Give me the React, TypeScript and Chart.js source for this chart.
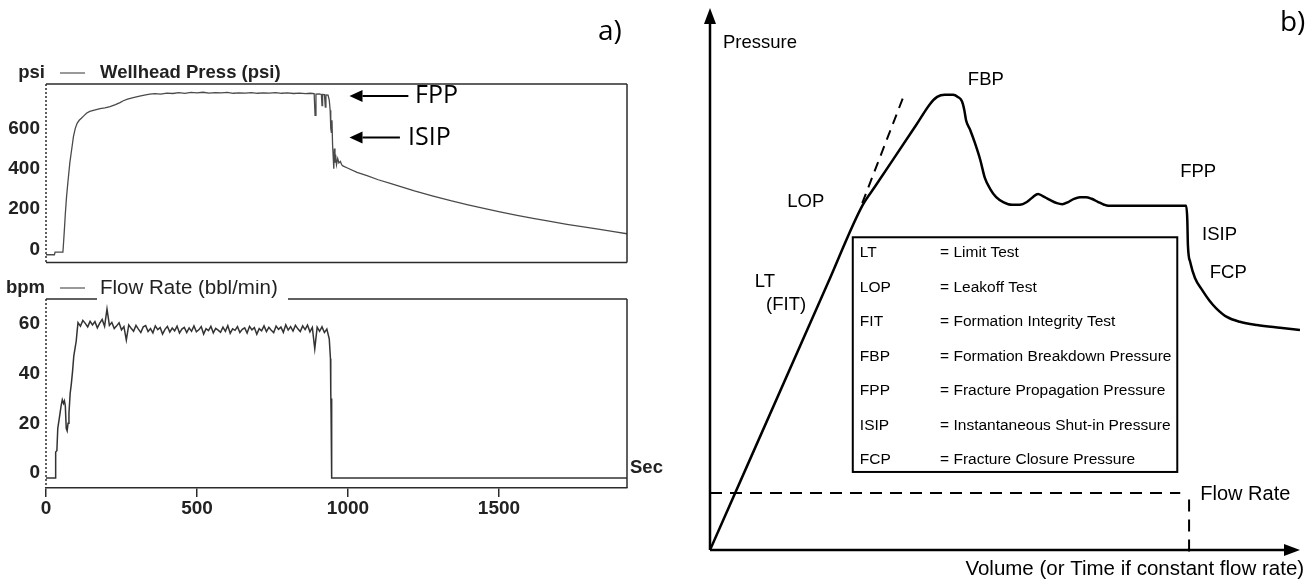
import React, { useEffect, useRef } from 'react';
import { Chart, registerables } from 'chart.js';

Chart.register(...registerables);

// ---------- a) field record: wellhead pressure (s, psi) ----------
const pressTime = [
  0, 28, 30, 56, 58, 61, 64, 68, 73, 79,
  85, 91, 97, 103, 110, 117, 125, 135, 145, 160,
  179, 195, 212, 230, 245, 256, 270, 289, 310, 330,
  344, 360, 380, 400, 420, 440, 460, 480, 500, 520,
  540, 560, 580, 600, 620, 640, 660, 680, 700, 720,
  740, 760, 780, 800, 820, 840, 860, 875, 888, 891,
  894, 905, 912, 914, 916, 922, 925, 927, 934, 938,
  941, 943, 945, 947, 949, 951, 953, 955, 957, 959,
  962, 966, 970, 975, 979, 983, 1000, 1030, 1063, 1100,
  1140, 1172, 1220, 1282, 1340, 1394, 1450, 1503, 1560, 1613,
  1670, 1725, 1780, 1834, 1880, 1924,
];
const pressPsi = [
  -27, -27, -14, -14, 30, 100, 175, 260, 340, 430,
  495, 560, 600, 625, 640, 650, 662, 676, 684, 690,
  698, 702, 708, 718, 728, 737, 745, 753, 760, 766,
  770, 772, 770, 775, 773, 777, 774, 778, 776, 779,
  775, 777, 776, 778, 774, 776, 775, 777, 774, 776,
  775, 777, 774, 776, 773, 775, 772, 774, 772, 665,
  770, 771, 768, 713, 768, 767, 705, 766, 765, 740,
  690, 600, 580, 640, 520, 460, 400, 500, 430, 470,
  420, 450, 428, 436, 420, 414, 402, 382, 365, 345,
  327, 312, 290, 264, 241, 222, 203, 186, 168, 153,
  138, 124, 111, 99, 88, 77,
];

// ---------- a) field record: pump flow rate (s, bbl/min) ----------
const flowTime = [
  0, 30, 32, 36, 39, 44, 50, 54, 58, 61,
  64, 67, 70, 73, 76, 80, 84, 88, 92, 96,
  100, 103,
  106, 114, 122, 130, 138, 146, 154, 162, 170, 178,
  186, 194, 202, 210, 218, 226, 234, 242, 250, 258,
  266, 274, 282, 290, 298, 306, 314, 322, 330, 338,
  346, 354, 362, 370, 378, 386, 394, 402, 410, 418,
  426, 434, 442, 450, 458, 466, 474, 482, 490, 498,
  506, 514, 522, 530, 538, 546, 554, 562, 570, 578,
  586, 594, 602, 610, 618, 626, 634, 642, 650, 658,
  666, 674, 682, 690, 698, 706, 714, 722, 730, 738,
  746, 754, 762, 770, 778, 786, 794, 802, 810, 818,
  826, 834, 842, 850, 858, 866, 874, 882, 890, 898,
  906, 914, 922, 930,
  938, 942, 943, 944, 945, 946, 947, 1924,
];
const flowBpm = [
  -2, -2, 8.5, 9, 18, 22, 27, 29.5, 28, 29,
  27, 18, 17, 20, 24, 32, 36, 41, 47, 50,
  53, 57,
  60.5, 59.1, 61.4, 60.2, 58.8, 61.0, 59.6, 60.9, 58.4, 60.3,
  61.8, 59.0, 66.0, 59.4, 60.6, 58.1, 59.2, 60.4, 57.6, 58.9,
  53.5, 59.6, 58.2, 57.0, 59.4, 57.9, 56.5, 58.8, 59.3, 56.9,
  58.1, 56.4, 59.2, 57.7, 58.5, 55.9, 57.8, 59.0, 56.7, 58.3,
  57.2, 59.1, 56.3, 57.9, 58.6, 56.5, 58.4, 57.0, 59.2, 56.8,
  57.6, 58.9, 55.9, 58.1, 57.3, 59.0, 56.4, 58.2, 57.5, 56.6,
  58.7, 57.0, 59.3, 56.2, 58.0, 57.4, 58.9, 56.5, 57.8, 58.4,
  56.3, 59.0, 57.6, 58.5, 55.8, 58.1, 57.2, 59.2, 56.9, 58.6,
  57.4, 56.5, 59.1, 57.8, 58.7, 56.6, 59.6, 57.5, 58.9, 57.1,
  59.4, 58.0, 56.9, 59.2, 57.7, 59.5, 56.8, 58.6, 50.0, 58.7,
  57.0, 58.8, 56.5, 57.9,
  54.0, 46.0, 33.0, 25.0, 30.0, 4.0, -2, -2,
];

const timeTicks = [0, 500, 1000, 1500];
const psiTicks = [0, 200, 400, 600];
const bpmTicks = [0, 20, 40, 60];

// ---------- b) idealised pressure response (volume, pressure in relative units) ----------
const schemVolume = [
  0, 20.0, 25.8, 28.0, 35.0, 37.3, 38.5, 39.8, 41.2, 42.0,
  42.7, 43.1, 43.4, 44.1, 44.9, 45.8, 46.6, 47.5, 48.5, 49.7,
  51.2, 52.5, 53.7, 54.7, 55.6, 56.4, 57.6, 58.8, 59.7, 60.7,
  61.7, 62.7, 63.7, 64.7, 65.8, 66.8, 67.5, 80.7, 80.9, 81.0,
  81.4, 82.2, 83.4, 84.6, 85.8, 87.6, 89.8, 92.7, 96.6, 100,
];
const schemPressure = [
  0, 49.3, 63.5, 67.1, 78.5, 82.3, 83.6, 84.0, 84.0, 83.6,
  82.8, 81.2, 79.3, 77.5, 75.1, 72.0, 68.6, 66.6, 65.1, 64.2,
  63.7, 63.7, 64.2, 65.1, 65.7, 65.3, 64.6, 64.0, 63.8, 64.2,
  64.8, 65.1, 65.1, 64.8, 64.2, 63.7, 63.5, 63.5, 60.9, 56.3,
  53.1, 50.2, 48.0, 46.1, 44.6, 43.0, 42.1, 41.5, 41.0, 40.6,
];
// linear-elastic trend continued past the leak-off point
const lopTrendVolume = [25.8, 32.7];
const lopTrendPressure = [64.0, 83.4];
// constant injection rate, then shut-in
const rateVolume = [0, 79.7];
const rateLevel = [10.5, 10.5];
const shutInVolume = [81.2, 81.2];
const shutInLevel = [9.3, -0.8];

const glossaryAbbr = ['LT', 'LOP', 'FIT', 'FBP', 'FPP', 'ISIP', 'FCP'];
const glossaryText = [
  '= Limit Test',
  '= Leakoff Test',
  '= Formation Integrity Test',
  '= Formation Breakdown Pressure',
  '= Fracture Propagation Pressure',
  '= Instantaneous Shut-in Pressure',
  '= Fracture Closure Pressure',
];

const SANS = "'Liberation Sans', Arial, Helvetica, sans-serif";
const HUMANIST = "'Open Sans', 'Noto Sans', sans-serif";
const INK = '#222';

const zip = (xs: number[], ys: number[]) => xs.map((x, i) => ({ x, y: ys[i] }));

function seg(ctx: CanvasRenderingContext2D, x0: number, y0: number, x1: number, y1: number) {
  ctx.beginPath();
  ctx.moveTo(x0, y0);
  ctx.lineTo(x1, y1);
  ctx.stroke();
}

// line from tail to tip with a filled triangular head at the tip
function arrow(ctx: CanvasRenderingContext2D, x0: number, y0: number, x1: number, y1: number, head: number, half: number) {
  const ang = Math.atan2(y1 - y0, x1 - x0);
  const bx = x1 - head * Math.cos(ang);
  const by = y1 - head * Math.sin(ang);
  seg(ctx, x0, y0, bx, by);
  ctx.beginPath();
  ctx.moveTo(x1, y1);
  ctx.lineTo(bx + half * Math.sin(ang), by - half * Math.cos(ang));
  ctx.lineTo(bx - half * Math.sin(ang), by + half * Math.cos(ang));
  ctx.closePath();
  ctx.fill();
}

// boxed trace panel: dotted value axis, frame, unit and series heading
function tracePanel(opts: any) {
  return {
    id: 'tracePanel',
    afterDraw(chart: any) {
      const { ctx, chartArea: a } = chart;
      const xs = chart.scales.x;
      const ys = chart.scales.y;
      ctx.save();
      ctx.strokeStyle = '#2b2b2b';
      ctx.lineWidth = 1.5;
      ctx.setLineDash([2, 2]);
      seg(ctx, a.left, a.top, a.left, a.bottom);
      ctx.setLineDash([]);
      if (opts.topGap) {
        seg(ctx, a.left, a.top, opts.topGap[0], a.top);
        seg(ctx, opts.topGap[1], a.top, a.right, a.top);
      } else {
        seg(ctx, a.left, a.top, a.right, a.top);
      }
      seg(ctx, a.right, a.top, a.right, a.bottom);
      if (opts.closeBottom) seg(ctx, a.left, a.bottom, a.right, a.bottom);

      const hy = a.top - 11;
      ctx.fillStyle = INK;
      ctx.textBaseline = 'middle';
      ctx.font = `bold 18.5px ${SANS}`;
      ctx.textAlign = 'right';
      ctx.fillText(opts.unit, a.left - 1, hy);
      ctx.strokeStyle = '#777';
      ctx.lineWidth = 1.5;
      seg(ctx, a.left + 14, hy, a.left + 39, hy);
      ctx.textAlign = 'left';
      ctx.fillStyle = INK;
      ctx.font = opts.titleFont;
      ctx.fillText(opts.title, a.left + 54, hy);
      if (opts.extra) opts.extra(ctx, a, xs, ys);
      ctx.restore();
    },
  };
}

const tickFont = { family: SANS, size: 19, weight: 'bold' };

const yAxis = (min: number, max: number, ticks: number[]) => ({
  type: 'linear',
  min,
  max,
  afterBuildTicks: (s: any) => {
    s.ticks = ticks.map((v) => ({ value: v }));
  },
  afterFit: (s: any) => {
    s.width = 46;
  },
  grid: { display: false, drawTicks: false },
  border: { display: false },
  ticks: { font: tickFont, color: INK, padding: 6, callback: (v: number) => String(v) },
});

function pressureConfig(): any {
  return {
    type: 'line',
    data: {
      datasets: [
        {
          data: zip(pressTime, pressPsi),
          borderColor: '#4a4a4a',
          borderWidth: 1.3,
          pointRadius: 0,
          tension: 0,
        },
      ],
    },
    options: {
      responsive: false,
      animation: false,
      events: [],
      layout: { padding: { left: 0, top: 84, right: 53, bottom: 9 } },
      scales: {
        x: { type: 'linear', min: 0, max: 1924, display: false },
        y: yAxis(-66, 820, psiTicks),
      },
      plugins: { legend: { display: false }, tooltip: { enabled: false } },
    },
    plugins: [
      tracePanel({
        unit: 'psi',
        title: 'Wellhead Press (psi)',
        titleFont: `bold 18.5px ${SANS}`,
        closeBottom: true,
        extra: (ctx: CanvasRenderingContext2D, a: any, xs: any, ys: any) => {
          ctx.strokeStyle = '#000';
          ctx.fillStyle = '#000';
          ctx.lineWidth = 2;
          const yF = ys.getPixelForValue(760);
          const yI = ys.getPixelForValue(555);
          arrow(ctx, xs.getPixelForValue(1200), yF, xs.getPixelForValue(1005), yF, 13, 6);
          arrow(ctx, xs.getPixelForValue(1172), yI, xs.getPixelForValue(1005), yI, 13, 6);
          ctx.font = `25px ${HUMANIST}`;
          ctx.textAlign = 'left';
          ctx.textBaseline = 'middle';
          ctx.fillText('FPP', xs.getPixelForValue(1222), yF);
          ctx.fillText('ISIP', xs.getPixelForValue(1199), yI);
          ctx.font = `28px ${HUMANIST}`;
          ctx.fillText('a)', a.right - 29, 32);
        },
      }),
    ],
  };
}

function flowConfig(): any {
  return {
    type: 'line',
    data: {
      datasets: [
        {
          data: zip(flowTime, flowBpm),
          borderColor: '#333',
          borderWidth: 1.5,
          pointRadius: 0,
          tension: 0,
        },
      ],
    },
    options: {
      responsive: false,
      animation: false,
      events: [],
      layout: { padding: { left: 0, top: 19, right: 53, bottom: 53 } },
      scales: {
        x: {
          type: 'linear',
          min: 0,
          max: 1924,
          afterBuildTicks: (s: any) => {
            s.ticks = timeTicks.map((v) => ({ value: v }));
          },
          afterFit: (s: any) => {
            s.height = 40;
          },
          grid: { display: true, drawOnChartArea: false, drawTicks: true, tickLength: 9, color: '#2b2b2b', lineWidth: 1.5 },
          border: { display: true, color: '#2b2b2b', width: 1.5 },
          ticks: {
            font: tickFont,
            color: INK,
            padding: 0,
            maxRotation: 0,
            autoSkip: false,
            callback: (v: number) => String(v),
          },
        },
        y: yAxis(-6, 70, bpmTicks),
      },
      plugins: { legend: { display: false }, tooltip: { enabled: false } },
    },
    plugins: [
      tracePanel({
        unit: 'bpm',
        title: 'Flow Rate (bbl/min)',
        titleFont: `20.5px ${SANS}`,
        topGap: [97, 288],
        closeBottom: false,
        extra: (ctx: CanvasRenderingContext2D, a: any, xs: any, ys: any) => {
          ctx.font = `bold 18.5px ${SANS}`;
          ctx.textAlign = 'left';
          ctx.textBaseline = 'middle';
          ctx.fillStyle = INK;
          ctx.fillText('Sec', a.right + 3, ys.getPixelForValue(2));
        },
      }),
    ],
  };
}

// annotation anchors for the schematic, in the schematic's own units
const schematicNotes: [string, number, number, number][] = [
  ['Pressure', 2.2, 93.5, 18.5],
  ['FBP', 43.7, 86.7, 18.5],
  ['LOP', 13.1, 64.2, 18.5],
  ['LT', 7.6, 49.4, 18.5],
  ['(FIT)', 9.5, 45.2, 18.5],
  ['FPP', 79.7, 69.7, 18.5],
  ['ISIP', 83.4, 58.1, 18.5],
  ['FCP', 84.7, 51.1, 18.5],
  ['Flow Rate', 83.1, 10.3, 20],
];

const schematicPlugin = {
  id: 'schematicDecor',
  afterDraw(chart: any) {
    const { ctx } = chart;
    const xs = chart.scales.x;
    const ys = chart.scales.y;
    const px = (v: number) => xs.getPixelForValue(v);
    const py = (v: number) => ys.getPixelForValue(v);
    ctx.save();
    ctx.strokeStyle = '#000';
    ctx.fillStyle = '#000';
    ctx.lineWidth = 2.5;
    arrow(ctx, px(0), py(0), px(0), py(100), 16, 6);
    arrow(ctx, px(0), py(0), px(100), py(0), 16, 6);

    // glossary box
    ctx.lineWidth = 2;
    ctx.strokeRect(px(24.2), py(57.7), px(79.2) - px(24.2), py(14.4) - py(57.7));
    ctx.font = `15.5px ${SANS}`;
    ctx.textBaseline = 'middle';
    ctx.textAlign = 'left';
    glossaryAbbr.forEach((abbr, i) => {
      const y = py(54.8 - i * 6.37);
      ctx.fillText(abbr, px(25.4), y);
      ctx.fillText(glossaryText[i], px(39.0), y);
    });

    schematicNotes.forEach(([text, x, y, size]) => {
      ctx.font = `${size}px ${SANS}`;
      ctx.fillText(text, px(x), py(y));
    });
    ctx.font = `20.5px ${SANS}`;
    ctx.textAlign = 'right';
    ctx.fillText('Volume (or Time if constant flow rate)', px(100.7), py(-3.6));
    ctx.textAlign = 'left';
    ctx.font = `28px ${HUMANIST}`;
    ctx.fillText('b)', px(96.6), py(97.2));
    ctx.restore();
  },
};

function schematicConfig(): any {
  const dashed = { borderColor: '#000', borderWidth: 2, pointRadius: 0, tension: 0, clip: false };
  return {
    type: 'line',
    data: {
      datasets: [
        {
          data: zip(schemVolume, schemPressure),
          borderColor: '#000',
          borderWidth: 2.5,
          pointRadius: 0,
          cubicInterpolationMode: 'monotone',
        },
        { ...dashed, data: zip(lopTrendVolume, lopTrendPressure), borderDash: [10, 7] },
        { ...dashed, data: zip(rateVolume, rateLevel), borderDash: [12, 8] },
        { ...dashed, data: zip(shutInVolume, shutInLevel), borderDash: [12, 8] },
      ],
    },
    options: {
      responsive: false,
      animation: false,
      events: [],
      layout: { padding: { left: 50, top: 8, right: 7, bottom: 31 } },
      scales: {
        x: { type: 'linear', min: 0, max: 100, display: false },
        y: { type: 'linear', min: 0, max: 100, display: false },
      },
      plugins: { legend: { display: false }, tooltip: { enabled: false } },
    },
    plugins: [schematicPlugin],
  };
}

export default function App() {
  const pressRef = useRef<HTMLCanvasElement>(null);
  const flowRef = useRef<HTMLCanvasElement>(null);
  const schemRef = useRef<HTMLCanvasElement>(null);

  useEffect(() => {
    const charts = [
      new Chart(pressRef.current as HTMLCanvasElement, pressureConfig()),
      new Chart(flowRef.current as HTMLCanvasElement, flowConfig()),
      new Chart(schemRef.current as HTMLCanvasElement, schematicConfig()),
    ];
    return () => charts.forEach((c) => c.destroy());
  }, []);

  return (
    <div
      style={{
        position: 'fixed',
        left: 0,
        top: 0,
        width: 1307,
        height: 581,
        background: '#fff',
        overflow: 'hidden',
      }}
    >
      <canvas ref={pressRef} width={680} height={280} style={{ position: 'absolute', left: 0, top: 0 }} />
      <canvas ref={flowRef} width={680} height={301} style={{ position: 'absolute', left: 0, top: 280 }} />
      <canvas ref={schemRef} width={647} height={581} style={{ position: 'absolute', left: 660, top: 0 }} />
    </div>
  );
}
